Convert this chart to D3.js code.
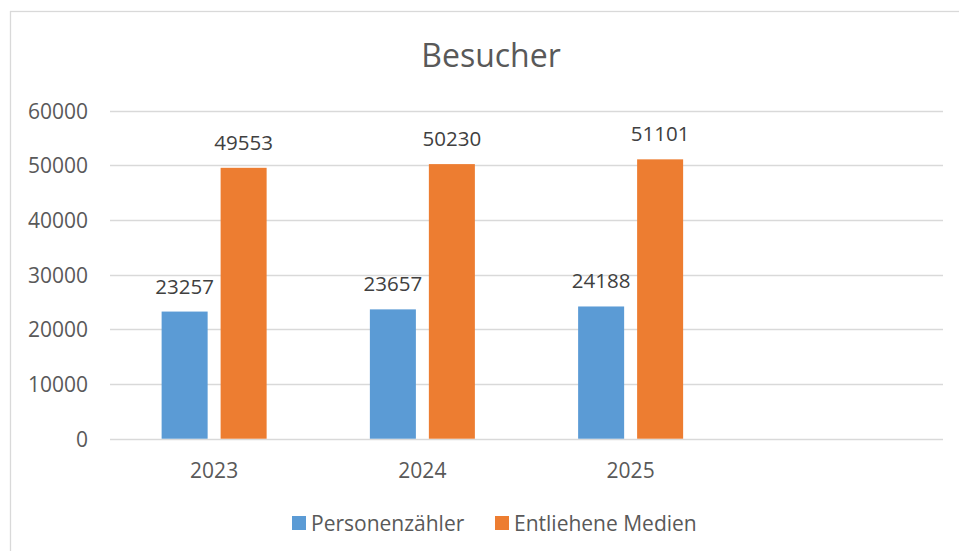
<!DOCTYPE html>
<html>
<head>
<meta charset="utf-8">
<script src="https://cdn.jsdelivr.net/npm/d3@7"></script>
<style>
    body { margin: 0; background: #fff; }
    text { font-family: "Open Sans", sans-serif; }
</style>
</head>
<body>
<div id="chart"></div>
<script>
// chart data
var categories = ["2023", "2024", "2025", ""];
var seriesNames = ["Personenzähler", "Entliehene Medien"];
var personen = [23257, 23657, 24188];
var medien = [49553, 50230, 51101];
var yTicks = [0, 10000, 20000, 30000, 40000, 50000, 60000];
var colors = ["#5B9BD5", "#ED7D31"];

var width = 959, height = 551;

var svg = d3.select("#chart")
    .append("svg")
    .attr("width", width)
    .attr("height", height);

// outer chart frame (only top and left are visible in the picture)
svg.append("rect")
    .attr("x", 10.5)
    .attr("y", 11.5)
    .attr("width", width + 20)
    .attr("height", height + 20)
    .attr("fill", "white")
    .attr("stroke", "#d9d9d9")
    .attr("stroke-width", 1.3);

var plotLeft = 110, plotRight = 943;

var y = d3.scaleLinear()
    .domain([0, 60000])
    .range([438.7, 110.7]);

var x0 = d3.scaleBand()
    .domain(categories)
    .range([plotLeft, plotRight])
    .paddingInner(0)
    .paddingOuter(0);

var x1 = d3.scaleBand()
    .domain(seriesNames)
    .range([0, x0.bandwidth()])
    .paddingInner(0.22)
    .paddingOuter(0.875);

// title
svg.append("text")
    .attr("x", 491)
    .attr("y", 66.5)
    .attr("text-anchor", "middle")
    .style("font-size", "32px")
    .style("fill", "#595959")
    .text("Besucher");

// gridlines
svg.selectAll(".grid")
    .data(yTicks)
    .enter()
    .append("line")
    .attr("class", "grid")
    .attr("x1", plotLeft)
    .attr("x2", plotRight)
    .attr("y1", function (d) { return Math.round(y(d)) + 0.5; })
    .attr("y2", function (d) { return Math.round(y(d)) + 0.5; })
    .attr("stroke", "#d9d9d9")
    .attr("stroke-width", 1.3);

// y axis labels
var yAxis = d3.axisLeft(y).tickValues(yTicks).tickSize(0).tickPadding(0).tickFormat(d3.format("d"));
var gy = svg.append("g")
    .attr("transform", "translate(" + 88 + ",0)")
    .call(yAxis);
gy.select(".domain").remove();
gy.selectAll("text")
    .style("font-size", "21px")
    .style("fill", "#595959")
    .attr("dy", "0.35em");

// x axis labels
var xAxis = d3.axisBottom(x0).tickSize(0).tickPadding(0);
var gx = svg.append("g")
    .attr("transform", "translate(0," + 478 + ")")
    .call(xAxis);
gx.select(".domain").remove();
gx.selectAll("text")
    .style("font-size", "21px")
    .style("fill", "#595959")
    .attr("dy", 0);

// bars
var rows = personen.map(function (d, i) {
    return {cat: categories[i], values: [personen[i], medien[i]]};
});

var groups = svg.selectAll(".group")
    .data(rows)
    .enter()
    .append("g")
    .attr("class", "group")
    .attr("transform", function (d) {
        return "translate(" + x0(d.cat) + ",0)";
    });

groups.selectAll("rect")
    .data(function (d) {
        return d.values.map(function (v, j) { return {name: seriesNames[j], value: v, idx: j}; });
    })
    .enter()
    .append("rect")
    .attr("x", function (d) { return x1(d.name); })
    .attr("width", x1.bandwidth())
    .attr("y", function (d) { return y(d.value); })
    .attr("height", function (d) { return y(0) - y(d.value); })
    .attr("fill", function (d) { return colors[d.idx]; });

// value labels above bars
groups.selectAll(".val")
    .data(function (d) {
        return d.values.map(function (v, j) { return {name: seriesNames[j], value: v}; });
    })
    .enter()
    .append("text")
    .attr("class", "val")
    .attr("x", function (d) { return x1(d.name) + x1.bandwidth() / 2; })
    .attr("y", function (d) { return y(d.value) - 18; })
    .attr("text-anchor", "middle")
    .style("font-size", "20.5px")
    .style("fill", "#404040")
    .text(function (d) { return d.value; });

// legend
var legendPos = [292, 495];
var legend = svg.selectAll(".legend")
    .data(seriesNames)
    .enter()
    .append("g")
    .attr("class", "legend")
    .attr("transform", function (d, i) {
        return "translate(" + legendPos[i] + "," + 516 + ")";
    });

legend.append("rect")
    .attr("width", 14)
    .attr("height", 14)
    .attr("fill", function (d, i) { return colors[i]; });

legend.append("text")
    .attr("x", 19)
    .attr("y", 14.5)
    .style("font-size", "21px")
    .style("fill", "#595959")
    .text(function (d) { return d; });
</script>
</body>
</html>
